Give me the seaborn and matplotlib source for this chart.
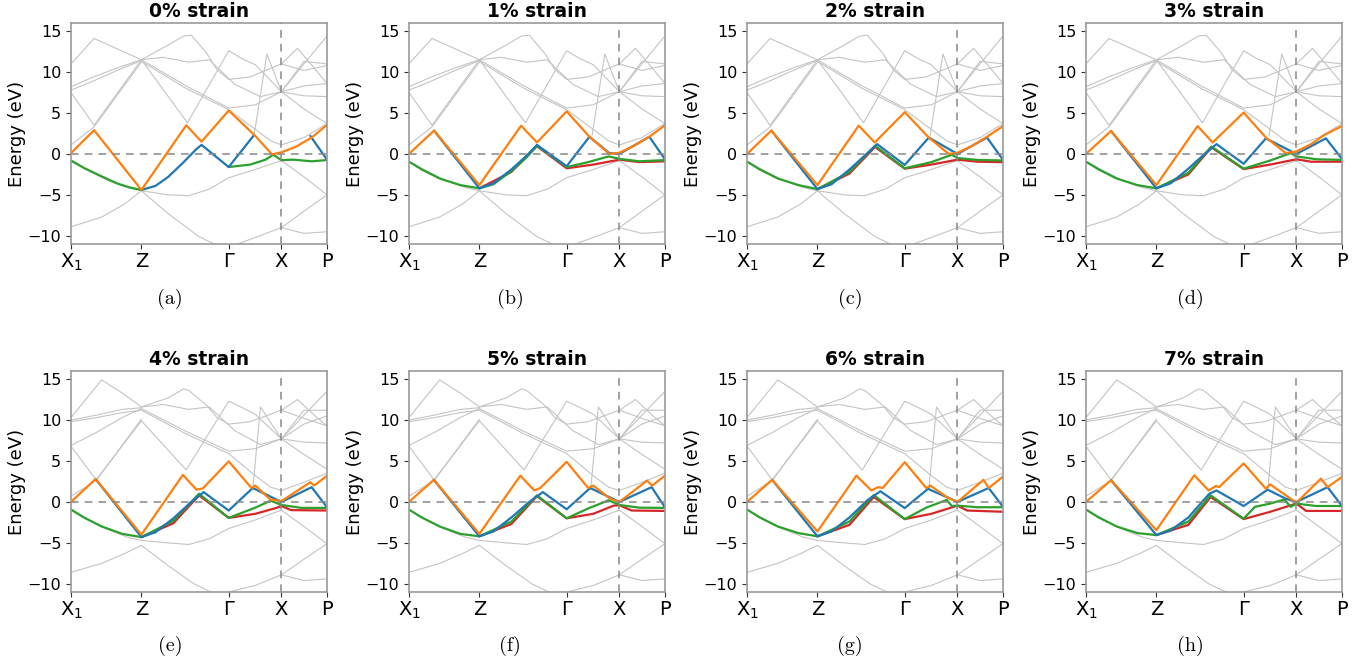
import pandas as pd
import seaborn as sns
import matplotlib.pyplot as plt

# k-path (fraction of path length) and labels
KTICKS = [0, 0.275, 0.616, 0.822, 1.0]
KLABELS = [r'X$_1$', 'Z', 'Γ', 'X', 'P']
STRAINS = ['0% strain', '1% strain', '2% strain', '3% strain',
           '4% strain', '5% strain', '6% strain', '7% strain']
LETTERS = ['(a)', '(b)', '(c)', '(d)', '(e)', '(f)', '(g)', '(h)']

# background bands, low strain
GRAY_LOW = [
    [(0, 11.0), (0.09, 14.1), (0.19, 12.7), (0.275, 11.5)],
    [(0, 8.2), (0.08, 9.3), (0.18, 10.5), (0.275, 11.5)],
    [(0, 7.8), (0.08, 8.8), (0.18, 10.2), (0.275, 11.4)],
    [(0, 7.5), (0.09, 3.5), (0.275, 11.5)],
    [(0, 1.1), (0.09, 3.3), (0.275, 11.2)],
    [(0, -0.9), (0.06, -1.9), (0.14, -3.2), (0.22, -4.1), (0.275, -4.5)],
    [(0, -8.9), (0.12, -7.7), (0.21, -6.1), (0.275, -4.5), (0.38, -7.3), (0.50, -10.1), (0.58, -11.3)],
    [(0.275, -4.5), (0.38, -5.0), (0.46, -5.1), (0.54, -4.3), (0.616, -2.9), (0.72, -1.9),
     (0.822, -0.8), (0.91, -2.8), (1.0, -5.0)],
    [(0.58, -11.3), (0.65, -11.0), (0.72, -10.2), (0.822, -9.0), (0.91, -9.7), (1.0, -9.5)],
    [(0.822, -9.0), (0.91, -7.0), (1.0, -5.0)],
    [(0.275, 11.5), (0.36, 11.8), (0.46, 11.2), (0.54, 11.5), (0.64, 8.5), (0.74, 7.0),
     (0.822, 7.6), (0.91, 7.1), (1.0, 7.0)],
    [(0.275, 11.5), (0.38, 13.3), (0.44, 14.4), (0.47, 14.5), (0.53, 12.3), (0.57, 10.3),
     (0.616, 9.1), (0.70, 9.4), (0.822, 11.0), (0.885, 12.9), (0.95, 10.5), (1.0, 8.6)],
    [(0.275, 11.5), (0.45, 8.3), (0.616, 5.6), (0.72, 6.0), (0.822, 7.6), (0.91, 5.5), (1.0, 3.7)],
    [(0.275, 11.3), (0.45, 8.0), (0.616, 5.4), (0.72, 3.0), (0.78, 1.6), (0.822, 1.1),
     (0.91, 2.0), (1.0, 3.7)],
    [(0.275, 11.5), (0.455, 3.8), (0.616, 12.6), (0.67, 11.6), (0.72, 10.9), (0.822, 7.6),
     (0.91, 11.3), (1.0, 11.0)],
    [(0.715, 2.2), (0.765, 12.2), (0.822, 7.6), (0.91, 8.3), (1.0, 8.6)],
    [(0.822, 7.6), (0.91, 11.0), (1.0, 14.4)],
    [(0.822, 11.0), (0.91, 10.2), (1.0, 10.8)],
]

# background bands, high strain
GRAY_HIGH = [
    [(0, 10.3), (0.12, 14.9), (0.20, 13.3), (0.275, 11.6)],
    [(0, 10.0), (0.10, 10.6), (0.20, 11.3), (0.275, 11.5)],
    [(0, 9.8), (0.10, 10.3), (0.20, 10.9), (0.275, 11.2)],
    [(0, 6.9), (0.10, 8.5), (0.20, 10.3), (0.275, 11.4)],
    [(0, 6.8), (0.098, 2.7), (0.275, 9.9)],
    [(0, 0.7), (0.098, 2.6), (0.275, 10.1)],
    [(0, -0.95), (0.06, -2.0), (0.14, -3.3), (0.22, -4.3), (0.275, -4.7), (0.38, -5.0),
     (0.46, -5.2), (0.54, -4.5), (0.616, -3.25), (0.72, -2.2), (0.822, -1.0), (0.91, -3.0), (1.0, -5.1)],
    [(0, -8.6), (0.12, -7.5), (0.21, -6.3), (0.275, -5.3), (0.38, -7.8), (0.48, -10.0), (0.56, -11.2)],
    [(0.56, -11.2), (0.616, -11.0), (0.72, -10.2), (0.822, -8.9), (0.91, -9.6), (1.0, -9.4)],
    [(0.822, -8.9), (0.91, -7.0), (1.0, -5.1)],
    [(0.275, 11.6), (0.36, 11.9), (0.46, 11.3), (0.54, 11.6), (0.64, 8.7), (0.74, 7.0),
     (0.822, 7.7), (0.91, 7.3), (1.0, 7.2)],
    [(0.275, 11.6), (0.38, 12.7), (0.44, 13.8), (0.46, 13.6), (0.53, 11.8), (0.57, 10.3),
     (0.616, 9.5), (0.70, 9.8), (0.822, 11.2), (0.885, 12.5), (0.95, 10.6), (1.0, 9.3)],
    [(0.275, 11.4), (0.45, 8.6), (0.616, 6.2), (0.72, 6.5), (0.822, 7.7), (0.91, 5.8), (1.0, 4.0)],
    [(0.275, 11.2), (0.45, 8.3), (0.616, 5.9), (0.72, 3.2), (0.78, 1.8), (0.822, 1.4),
     (0.91, 2.4), (1.0, 3.5)],
    [(0.275, 9.9), (0.45, 3.9), (0.616, 12.3), (0.67, 11.5), (0.72, 10.7), (0.822, 7.7),
     (0.91, 11.2), (1.0, 11.2)],
    [(0.71, 1.5), (0.74, 11.6), (0.822, 7.7), (0.91, 9.5), (1.0, 10.5)],
    [(0.822, 7.7), (0.91, 10.6), (1.0, 13.5)],
    [(0.822, 11.2), (0.91, 10.2), (1.0, 9.3)],
]

# highlighted bands, one entry per panel, each a list of segments
ORANGE = [
    [[(0, 0.1), (0.09, 2.9), (0.275, -4.4), (0.45, 3.5), (0.51, 1.5), (0.616, 5.3), (0.72, 2.2),
      (0.785, -0.05), (0.822, 0.2), (0.88, 0.9), (0.94, 2.0), (1.0, 3.55)]],
    [[(0, 0.0), (0.098, 2.85), (0.275, -3.8), (0.438, 3.45), (0.50, 1.4), (0.616, 5.2), (0.705, 2.1),
      (0.783, 0.0), (0.822, 0.15), (0.88, 1.0), (0.939, 2.1), (1.0, 3.5)]],
    [[(0, 0.0), (0.095, 2.85), (0.275, -3.8), (0.436, 3.45), (0.499, 1.4), (0.616, 5.1), (0.71, 2.0),
      (0.788, 0.0), (0.822, 0.15), (0.88, 1.0), (0.9375, 2.1), (1.0, 3.4)]],
    [[(0, 0.0), (0.098, 2.8), (0.275, -3.8), (0.436, 3.4), (0.495, 1.4), (0.616, 5.05), (0.703, 2.0),
      (0.781, 0.1), (0.822, 0.3), (0.88, 1.2), (0.93, 2.3), (1.0, 3.4)]],
    [[(0, 0.0), (0.096, 2.8), (0.275, -4.0), (0.437, 3.3), (0.49, 1.5), (0.515, 1.65), (0.616, 4.95),
      (0.705, 1.7), (0.72, 2.0), (0.778, 0.3), (0.822, 0.1), (0.935, 2.4), (0.95, 2.0), (1.0, 3.2)]],
    [[(0, 0.0), (0.097, 2.7), (0.275, -3.9), (0.435, 3.2), (0.49, 1.4), (0.513, 1.7), (0.616, 4.9),
      (0.70, 1.7), (0.72, 2.0), (0.786, 0.4), (0.822, 0.0), (0.93, 2.6), (0.95, 2.0), (1.0, 3.2)]],
    [[(0, 0.0), (0.098, 2.7), (0.275, -3.6), (0.427, 3.2), (0.486, 1.4), (0.512, 1.8), (0.53, 1.7),
      (0.616, 4.85), (0.70, 1.7), (0.716, 2.0), (0.78, 0.6), (0.822, 0.0), (0.924, 2.7), (0.944, 1.7), (1.0, 3.1)]],
    [[(0, 0.0), (0.098, 2.65), (0.275, -3.45), (0.423, 3.25), (0.479, 1.4), (0.508, 1.95), (0.52, 1.8),
      (0.616, 4.7), (0.703, 1.6), (0.719, 2.15), (0.781, 0.8), (0.822, -0.1), (0.918, 2.85), (0.944, 1.8), (1.0, 3.05)]],
]

BLUE = [
    [[(0.275, -4.4), (0.33, -3.9), (0.38, -2.8), (0.44, -1.0), (0.49, 0.6), (0.51, 1.1), (0.616, -1.6),
      (0.715, 2.3)], [(0.935, 2.2), (1.0, -0.7)]],
    [[(0.098, 2.85), (0.275, -4.2), (0.33, -3.6), (0.40, -1.9), (0.46, -0.2), (0.50, 1.1), (0.616, -1.5),
      (0.705, 2.1), (0.783, 0.1), (0.822, 0.0), (0.939, 2.1), (1.0, -0.65)]],
    [[(0.095, 2.85), (0.275, -4.3), (0.33, -3.7), (0.40, -1.9), (0.46, -0.2), (0.508, 1.2), (0.616, -1.35),
      (0.71, 2.0), (0.822, 0.0), (0.9375, 2.0), (1.0, -0.73)]],
    [[(0.098, 2.8), (0.275, -4.2), (0.33, -3.6), (0.40, -1.8), (0.46, -0.1), (0.51, 1.2), (0.616, -1.2),
      (0.703, 1.9), (0.822, 0.0), (0.9375, 1.9), (1.0, -0.6)]],
    [[(0.096, 2.8), (0.275, -4.3), (0.33, -3.7), (0.40, -2.0), (0.47, 0.0), (0.518, 1.2), (0.616, -1.05),
      (0.71, 1.7), (0.822, 0.0), (0.94, 1.8), (1.0, -0.65)]],
    [[(0.097, 2.7), (0.275, -4.2), (0.33, -3.6), (0.40, -1.9), (0.47, 0.0), (0.523, 1.2), (0.616, -0.9),
      (0.708, 1.7), (0.822, 0.0), (0.948, 1.8), (1.0, -0.65)]],
    [[(0.098, 2.7), (0.275, -4.2), (0.33, -3.6), (0.40, -1.9), (0.47, 0.2), (0.521, 1.3), (0.616, -0.75),
      (0.707, 1.6), (0.822, 0.0), (0.944, 1.7), (1.0, -0.6)]],
    [[(0.098, 2.65), (0.275, -4.05), (0.33, -3.5), (0.40, -1.9), (0.482, 1.0), (0.51, 1.4), (0.616, -0.5),
      (0.71, 1.5), (0.78, 0.4), (0.822, 0.0), (0.944, 1.8), (1.0, -0.5)]],
]

GREEN = [
    [[(0, -0.8), (0.05, -1.7), (0.11, -2.6), (0.18, -3.6), (0.23, -4.1), (0.275, -4.4)],
     [(0.616, -1.6), (0.70, -1.3), (0.76, -0.7), (0.79, -0.1), (0.822, -0.75), (0.87, -0.7),
      (0.94, -0.9), (1.0, -0.75)]],
    [[(0, -0.94), (0.05, -1.9), (0.12, -3.0), (0.20, -3.8), (0.275, -4.2), (0.33, -3.7), (0.40, -2.1),
      (0.46, -0.4), (0.50, 1.0), (0.616, -1.6), (0.70, -1.0), (0.78, -0.3), (0.822, -0.6), (0.90, -0.9),
      (1.0, -0.75)]],
    [[(0, -0.94), (0.05, -1.9), (0.12, -3.0), (0.20, -3.8), (0.275, -4.3), (0.40, -2.2), (0.50, 1.0),
      (0.616, -1.75), (0.72, -1.0), (0.80, -0.1), (0.822, -0.5), (0.90, -0.73), (1.0, -0.8)]],
    [[(0, -0.94), (0.05, -1.9), (0.12, -3.0), (0.20, -3.8), (0.275, -4.2), (0.40, -2.3), (0.49, 0.9),
      (0.616, -1.8), (0.72, -0.8), (0.80, 0.1), (0.822, -0.3), (0.90, -0.65), (1.0, -0.73)]],
    [[(0, -0.93), (0.05, -1.9), (0.12, -3.0), (0.20, -3.9), (0.275, -4.3), (0.40, -2.3), (0.50, 1.0),
      (0.616, -1.95), (0.72, -0.7), (0.78, 0.15), (0.822, -0.37), (0.90, -0.73), (1.0, -0.73)]],
    [[(0, -0.93), (0.05, -1.9), (0.12, -3.0), (0.20, -3.9), (0.275, -4.2), (0.40, -2.4), (0.50, 0.8),
      (0.616, -2.0), (0.70, -0.8), (0.78, 0.2), (0.822, -0.37), (0.90, -0.7), (1.0, -0.73)]],
    [[(0, -0.93), (0.05, -1.9), (0.12, -3.0), (0.20, -3.8), (0.275, -4.2), (0.40, -2.4), (0.495, 0.85),
      (0.616, -2.1), (0.70, -0.7), (0.78, 0.25), (0.80, -0.5), (0.822, -0.45), (0.90, -0.65), (1.0, -0.65)]],
    [[(0, -0.93), (0.05, -1.9), (0.12, -3.0), (0.20, -3.8), (0.275, -4.05), (0.40, -2.4), (0.487, 0.8),
      (0.616, -2.05), (0.66, -0.6), (0.72, -0.2), (0.775, 0.3), (0.80, -0.6), (0.822, -0.2),
      (0.90, -0.5), (1.0, -0.5)]],
]

RED = [
    [],
    [[(0.275, -4.2), (0.40, -2.2), (0.50, 0.95), (0.616, -1.75), (0.72, -1.3), (0.822, -0.7),
      (0.90, -1.0), (1.0, -0.9)]],
    [[(0.275, -4.3), (0.40, -2.4), (0.50, 0.85), (0.616, -1.8), (0.72, -1.3), (0.822, -0.7),
      (0.90, -0.95), (1.0, -1.0)]],
    [[(0.275, -4.2), (0.40, -2.5), (0.49, 0.8), (0.616, -1.85), (0.72, -1.3), (0.822, -0.65),
      (0.88, -0.95), (1.0, -0.95)]],
    [[(0.275, -4.3), (0.40, -2.6), (0.50, 0.8), (0.616, -1.95), (0.72, -1.45), (0.80, -0.75),
      (0.822, -0.5), (0.86, -1.0), (1.0, -1.05)]],
    [[(0.275, -4.2), (0.40, -2.7), (0.50, 0.7), (0.616, -2.0), (0.72, -1.45), (0.80, -0.45),
      (0.822, -0.4), (0.87, -1.05), (1.0, -1.1)]],
    [[(0.275, -4.2), (0.40, -2.8), (0.495, 0.6), (0.616, -2.1), (0.72, -1.45), (0.822, -0.45),
      (0.86, -1.05), (1.0, -1.2)]],
    [[(0.275, -4.05), (0.40, -2.8), (0.487, 0.6), (0.616, -2.1), (0.72, -1.2), (0.822, -0.2),
      (0.86, -1.1), (1.0, -1.1)]],
]


def to_frame(segments):
    rows = []
    for i, seg in enumerate(segments):
        for k, e in seg:
            rows.append({'k': k, 'E': e, 'seg': i})
    return pd.DataFrame(rows, columns=['k', 'E', 'seg'])


sns.set_style("ticks")
plt.rcParams['font.family'] = ['DejaVu Sans']
plt.rcParams['text.color'] = 'black'
plt.rcParams['axes.labelcolor'] = 'black'
plt.rcParams['xtick.color'] = 'black'
plt.rcParams['ytick.color'] = 'black'

fig = plt.figure(figsize=(13.71, 6.66), dpi=100)

col_left = [0.0518, 0.2983, 0.5449, 0.7921]
row_bottom = [0.6336, 0.1111]
cap_x = [0.124, 0.372, 0.620, 0.868]
cap_y = [0.551, 0.030]

for p in range(8):
    r, c = divmod(p, 4)
    ax = fig.add_axes([col_left[c], row_bottom[r], 0.1867, 0.332])

    gray = GRAY_LOW if p < 4 else GRAY_HIGH
    sns.lineplot(data=to_frame(gray), x='k', y='E', units='seg', estimator=None, sort=False,
                 color='#c4c4c4', lw=0.8, ax=ax, legend=False)
    for bands, col in [(RED, 'tab:red'), (GREEN, 'tab:green'), (BLUE, 'tab:blue'), (ORANGE, 'tab:orange')]:
        if bands[p]:
            sns.lineplot(data=to_frame(bands[p]), x='k', y='E', units='seg', estimator=None,
                         sort=False, color=col, lw=1.6, ax=ax, legend=False)

    ax.axhline(0, ls='--', color='#888888', lw=1.1, dashes=(5, 4))
    ax.axvline(KTICKS[3], ls='--', color='#888888', lw=1.1, dashes=(5, 4))

    ax.set_xlim(0, 1)
    ax.set_ylim(-11, 16)
    ax.set_xticks(KTICKS)
    ax.set_xticklabels(KLABELS, fontsize=14)
    ax.set_yticks([-10, -5, 0, 5, 10, 15])
    ax.tick_params(axis='y', labelsize=11.5, length=3.5, color='#333333')
    ax.tick_params(axis='x', length=3.5, color='#333333', pad=2)
    ax.set_xlabel('')
    ax.set_ylabel('Energy (eV)', fontsize=13, labelpad=1)
    ax.set_title(STRAINS[p], fontsize=13.5, fontweight='bold', pad=4)
    for s in ax.spines.values():
        s.set_color('#9a9a9a')
        s.set_linewidth(1.2)

    fig.text(cap_x[c], cap_y[r], LETTERS[p], ha='center', va='center',
             fontsize=14.5, family='cmr10')

fig.savefig('out.png', dpi=100)
